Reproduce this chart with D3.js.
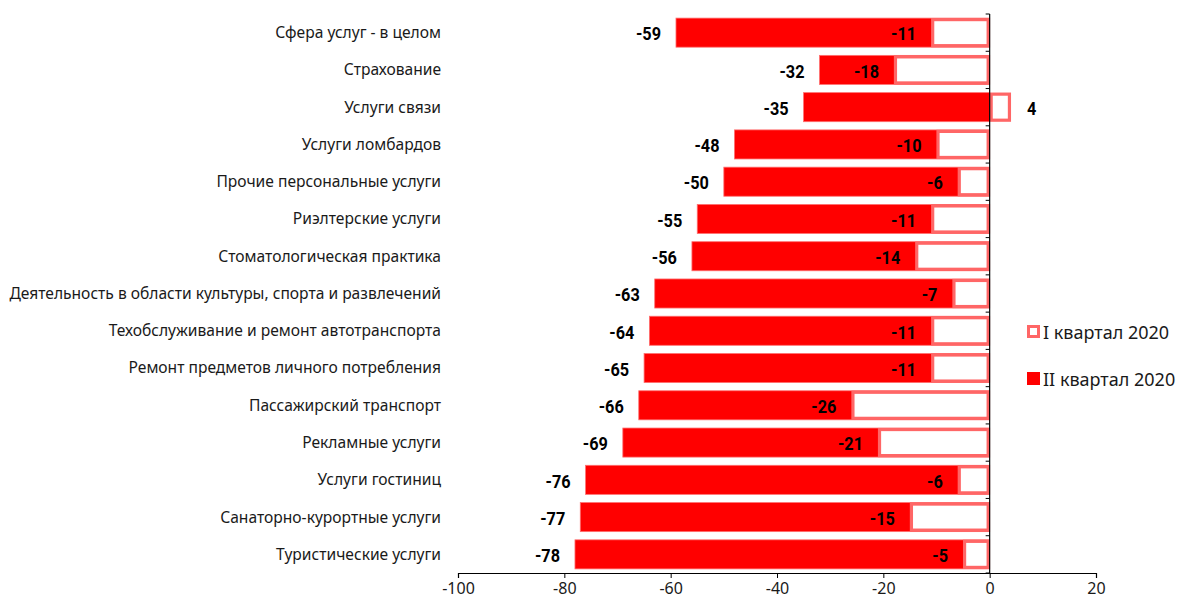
<!DOCTYPE html>
<html>
<head>
<meta charset="utf-8">
<script src="https://cdn.jsdelivr.net/npm/d3@7"></script>
<style>
  html, body { margin: 0; padding: 0; background: #fff; }
  svg { display: block; }
</style>
</head>
<body>
<svg id="chart" width="1182" height="603"></svg>
<script>
// Categories of services, top to bottom
const categories = [
  "Сфера услуг - в целом",
  "Страхование",
  "Услуги связи",
  "Услуги ломбардов",
  "Прочие персональные услуги",
  "Риэлтерские услуги",
  "Стоматологическая практика",
  "Деятельность в области культуры, спорта и развлечений",
  "Техобслуживание и ремонт автотранспорта",
  "Ремонт предметов личного потребления",
  "Пассажирский транспорт",
  "Рекламные услуги",
  "Услуги гостиниц",
  "Санаторно-курортные услуги",
  "Туристические услуги"
];
// Balance values, I quarter 2020
const q1Values = [-11, -18, 4, -10, -6, -11, -14, -7, -11, -11, -26, -21, -6, -15, -5];
// Balance values, II quarter 2020
const q2Values = [-59, -32, -35, -48, -50, -55, -56, -63, -64, -65, -66, -69, -76, -77, -78];
const seriesNames = ["I квартал 2020", "II квартал 2020"];
const xTicks = [-100, -80, -60, -40, -20, 0, 20];

const svg = d3.select("#chart");
const x = d3.scaleLinear().domain([-100, 20]).range([458, 1096]);
const y = d3.scaleBand().domain(categories).range([14, 573]).paddingInner(0.22).paddingOuter(0.11);

const numFont = "Roboto, 'DejaVu Sans', sans-serif";
const catFont = "'Noto Sans', 'Open Sans', sans-serif";
const narrow = 0.88; // horizontal squeeze for the value labels

const rows = categories.map((c, i) => ({ c, q1: q1Values[i], q2: q2Values[i] }));

// II quarter bars (solid red)
svg.append("g").selectAll("rect").data(rows).join("rect")
  .attr("x", d => x(Math.min(0, d.q2)))
  .attr("y", d => y(d.c))
  .attr("width", d => Math.abs(x(d.q2) - x(0)))
  .attr("height", y.bandwidth())
  .attr("fill", "#ff0000")
  .attr("stroke", "#ff7070")
  .attr("stroke-width", 0.8);

// I quarter bars (outlined)
svg.append("g").selectAll("rect").data(rows).join("rect")
  .attr("x", d => x(Math.min(0, d.q1)) + 1.5)
  .attr("y", d => y(d.c) + 1.5)
  .attr("width", d => Math.max(0, Math.abs(x(d.q1) - x(0)) - 3))
  .attr("height", y.bandwidth() - 3)
  .attr("fill", "#ffffff")
  .attr("stroke", "#ff6666")
  .attr("stroke-width", 3.2);

// Category axis line at zero with boundary ticks
const yAxis = svg.append("g");
yAxis.append("line")
  .attr("x1", x(0)).attr("x2", x(0))
  .attr("y1", 14).attr("y2", 573)
  .attr("stroke", "#000").attr("stroke-width", 1.2);
yAxis.selectAll("line.b").data(d3.range(categories.length + 1)).join("line")
  .attr("class", "b")
  .attr("x1", x(0) - 4).attr("x2", x(0))
  .attr("y1", i => 14 + i * y.step())
  .attr("y2", i => 14 + i * y.step())
  .attr("stroke", "#000").attr("stroke-width", 1);

// Category labels
svg.append("g").selectAll("text").data(rows).join("text")
  .attr("x", 441)
  .attr("y", d => y(d.c) + y.bandwidth() / 2)
  .attr("dy", "0.35em")
  .attr("text-anchor", "end")
  .attr("font-family", catFont)
  .attr("font-size", 15.6)
  .attr("fill", "#1a1a1a")
  .text(d => d.c);

// Value axis
const xAxis = svg.append("g")
  .attr("transform", "translate(0,573)")
  .call(d3.axisBottom(x).tickValues(xTicks).tickSize(5).tickPadding(5).tickFormat(d3.format("d")));
xAxis.select(".domain").attr("stroke", "#000").attr("stroke-width", 1.2);
xAxis.selectAll(".tick line").attr("stroke", "#000");
xAxis.selectAll("text")
  .attr("font-family", catFont)
  .attr("font-size", 16)
  .attr("fill", "#1a1a1a")
  .text(d => d < 0 ? "-" + Math.abs(d) : d);

// Value labels (condensed bold)
const labels = svg.append("g")
  .attr("font-family", numFont)
  .attr("font-weight", "bold")
  .attr("font-size", 18.5)
  .attr("fill", "#000");
labels.selectAll("text.q2").data(rows).join("text")
  .attr("class", "q2")
  .attr("transform", d => `translate(${x(d.q2) - 15},${y(d.c) + y.bandwidth() / 2}) scale(${narrow},1)`)
  .attr("dy", "0.42em")
  .attr("text-anchor", "end")
  .text(d => d.q2);
labels.selectAll("text.q1").data(rows).join("text")
  .attr("class", "q1")
  .attr("transform", d => `translate(${d.q1 < 0 ? x(d.q1) - 15 : x(d.q1) + 16},${y(d.c) + y.bandwidth() / 2}) scale(${narrow},1)`)
  .attr("dy", "0.42em")
  .attr("text-anchor", d => d.q1 < 0 ? "end" : "start")
  .text(d => d.q1);

// Legend
const legend = svg.append("g").attr("transform", "translate(1027,0)");
const legendY = [333, 380];
legend.append("rect")
  .attr("x", 1.5).attr("y", legendY[0] - 6.5).attr("width", 10).attr("height", 10)
  .attr("fill", "#fff").attr("stroke", "#ff6666").attr("stroke-width", 3);
legend.append("rect")
  .attr("x", 0).attr("y", legendY[1] - 8).attr("width", 13).attr("height", 13)
  .attr("fill", "#ff0000");
legend.selectAll("text").data(seriesNames).join("text")
  .attr("x", 16)
  .attr("y", (d, i) => legendY[i])
  .attr("dy", "0.35em")
  .attr("font-family", catFont)
  .attr("font-size", 18)
  .attr("fill", "#1a1a1a")
  .text(d => d);
</script>
</body>
</html>
